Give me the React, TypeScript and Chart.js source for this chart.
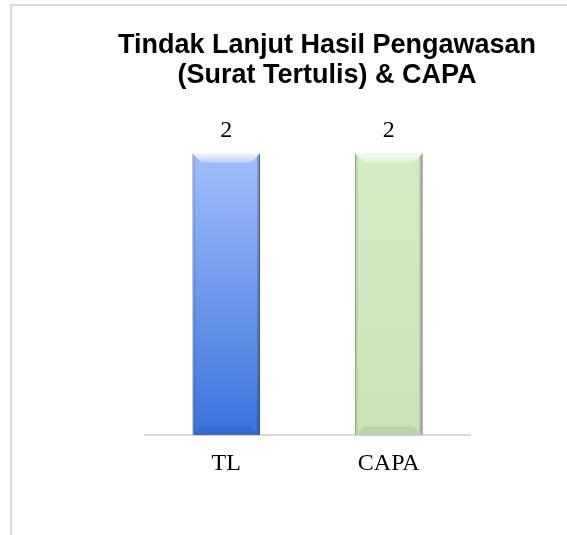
import React, { useEffect, useRef } from "react";
import { Chart, registerables } from "chart.js";

Chart.register(...registerables);

const categories = ["TL", "CAPA"];
const values = [2, 2];
const valueLabels = ["2", "2"];
const titleLines = ["Tindak Lanjut Hasil Pengawasan", "(Surat Tertulis) & CAPA"];
const gradTop = ["#a2bffb", "#d2ecc5"];
const gradBottom = ["#3a72dc", "#c9e5b8"];
const borderColors = ["#5a7ec6", "#98b589"];

export default function App() {
  const ref = useRef<HTMLCanvasElement>(null);

  useEffect(() => {
    if (!ref.current) return;

    const shadow = {
      id: "barShadow",
      beforeDatasetsDraw(chart: any) {
        const ctx = chart.ctx;
        ctx.save();
        ctx.shadowColor = "rgba(0,0,0,0.28)";
        ctx.shadowBlur = 5;
        ctx.shadowOffsetX = 2;
        ctx.shadowOffsetY = 1;
      },
      afterDatasetsDraw(chart: any) {
        chart.ctx.restore();
      },
    };

    const bevel = {
      id: "bevel",
      afterDatasetsDraw(chart: any) {
        const ctx = chart.ctx;
        const meta = chart.getDatasetMeta(0);
        meta.data.forEach((bar: any) => {
          const { x, y, base, width } = bar.getProps(["x", "y", "base", "width"], true);
          const l = x - width / 2;
          const r = x + width / 2;
          const t = y;
          const b = base;
          const s = 9;
          ctx.save();
          ctx.beginPath();
          ctx.moveTo(l, t);
          ctx.lineTo(r, t);
          ctx.lineTo(r - s, t + s);
          ctx.lineTo(l + s, t + s);
          ctx.closePath();
          const g = ctx.createLinearGradient(0, t, 0, t + s);
          g.addColorStop(0, "rgba(255,255,255,0.85)");
          g.addColorStop(1, "rgba(255,255,255,0.3)");
          ctx.fillStyle = g;
          ctx.fill();
          ctx.beginPath();
          ctx.moveTo(l, b);
          ctx.lineTo(r, b);
          ctx.lineTo(r - s, b - s);
          ctx.lineTo(l + s, b - s);
          ctx.closePath();
          ctx.fillStyle = "rgba(0,0,0,0.07)";
          ctx.fill();
          ctx.beginPath();
          ctx.moveTo(l, t);
          ctx.lineTo(l + 3, t + 3);
          ctx.lineTo(l + 3, b - 3);
          ctx.lineTo(l, b);
          ctx.closePath();
          ctx.fillStyle = "rgba(0,0,0,0.08)";
          ctx.fill();
          ctx.beginPath();
          ctx.moveTo(r, t);
          ctx.lineTo(r - 3, t + 3);
          ctx.lineTo(r - 3, b - 3);
          ctx.lineTo(r, b);
          ctx.closePath();
          ctx.fillStyle = "rgba(0,0,0,0.18)";
          ctx.fill();
          ctx.restore();
        });
      },
    };

    const labelsPlugin = {
      id: "valueLabels",
      afterDatasetsDraw(chart: any) {
        const ctx = chart.ctx;
        const meta = chart.getDatasetMeta(0);
        ctx.save();
        ctx.font = "24px 'Liberation Serif', 'Times New Roman', serif";
        ctx.fillStyle = "#000";
        ctx.textAlign = "center";
        ctx.textBaseline = "alphabetic";
        meta.data.forEach((bar: any, i: number) => {
          ctx.fillText(valueLabels[i], bar.x, bar.y - 16);
        });
        ctx.restore();
      },
    };

    const hiddenAxis = (w: number) => ({
      display: true,
      grid: { display: false },
      border: { display: false },
      ticks: { display: false },
      afterFit: (s: any) => {
        s.width = w;
      },
    });

    const chart = new Chart(ref.current, {
      type: "bar",
      data: {
        labels: categories,
        datasets: [
          {
            data: values,
            backgroundColor: (c: any) => {
              const area = c.chart.chartArea;
              const i = c.dataIndex;
              if (!area) return gradBottom[i];
              const g = c.chart.ctx.createLinearGradient(0, area.top, 0, area.bottom);
              g.addColorStop(0, gradTop[i]);
              g.addColorStop(1, gradBottom[i]);
              return g;
            },
            borderColor: borderColors,
            borderWidth: 1,
            categoryPercentage: 0.8,
            barPercentage: 0.52,
            yAxisID: "y",
          },
        ],
      },
      options: {
        responsive: false,
        maintainAspectRatio: false,
        animation: false,
        devicePixelRatio: 1,
        layout: { padding: { left: 110, right: 23, top: 0, bottom: 43 } },
        plugins: {
          legend: { display: false },
          tooltip: { enabled: false },
          title: {
            display: true,
            text: titleLines,
            color: "#000",
            font: { family: "'Liberation Sans', Arial, sans-serif", size: 27, weight: "bold", lineHeight: 1.1 },
            padding: { top: 31, bottom: 63 },
          },
        },
        scales: {
          x: {
            grid: { display: false, drawTicks: false },
            border: { display: true, color: "#d9d9d9", width: 2 },
            ticks: {
              color: "#000",
              padding: 14,
              font: { family: "'Liberation Serif', 'Times New Roman', serif", size: 24 },
            },
          },
          y: {
            position: "left",
            min: 0,
            max: 2,
            ...hiddenAxis(35),
          },
          y2: {
            position: "right",
            min: 0,
            max: 2,
            ...hiddenAxis(74),
          },
        },
      },
      plugins: [shadow, bevel, labelsPlugin],
    } as any);

    return () => chart.destroy();
  }, []);

  return (
    <div
      style={{
        position: "absolute",
        left: 0,
        top: 0,
        width: 567,
        height: 535,
        overflow: "hidden",
        background: "#fff",
      }}
    >
      <div
        style={{
          position: "absolute",
          left: 10,
          top: 4,
          width: 700,
          height: 700,
          borderLeft: "2px solid #d9d9d9",
          borderTop: "2px solid #d9d9d9",
        }}
      />
      <canvas ref={ref} width={567} height={535} style={{ position: "absolute", left: 0, top: 0 }} />
    </div>
  );
}
